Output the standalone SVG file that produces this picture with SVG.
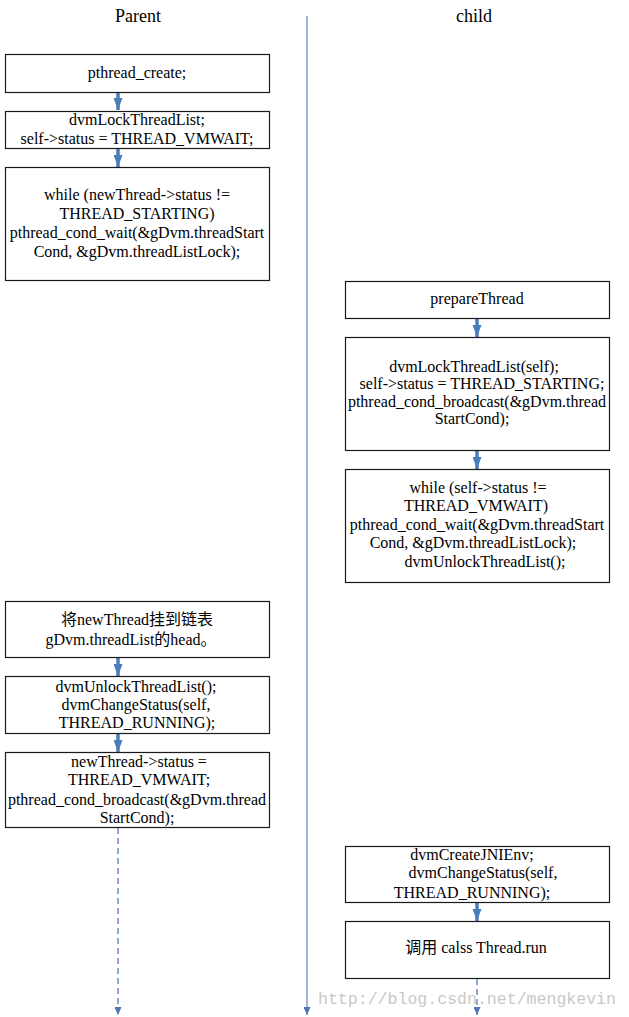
<svg xmlns="http://www.w3.org/2000/svg" width="629" height="1017" viewBox="0 0 629 1017">
<defs>
<style>
.box{fill:#fff;stroke:#1a1a1a;stroke-width:1.2}
.t{font-family:"Liberation Serif",serif;font-size:16px;fill:#000;text-anchor:middle}
.cjk{font-family:"Liberation Serif","Noto Sans CJK SC",serif}
.h{font-family:"Liberation Serif",serif;font-size:18px;fill:#000;text-anchor:middle}
.arr{stroke:#4a7ebb;stroke-width:3.5;fill:none}
.dash{stroke:#6a8cc4;stroke-width:1.5;stroke-dasharray:6 4;fill:none}
.wm{font-family:"Liberation Mono",monospace;font-size:16.5px;fill:#c8c8c8}
</style>
<marker id="ah" viewBox="0 0 12 9" refX="12" refY="4.5" markerWidth="12" markerHeight="9" markerUnits="userSpaceOnUse" orient="auto"><path d="M0,0 L12,4.5 L0,9 z" fill="#4a7ebb"/></marker>
<marker id="as" viewBox="0 0 8 7" refX="8" refY="3.5" markerWidth="8" markerHeight="7" markerUnits="userSpaceOnUse" orient="auto"><path d="M0,0 L8,3.5 L0,7 z" fill="#4f75b5"/></marker>
</defs>
<rect width="629" height="1017" fill="#fff"/>
<text class="h" x="138" y="22">Parent</text>
<text class="h" x="474" y="22">child</text>
<g id="connectors">
<line x1="307" y1="16" x2="307" y2="1015" stroke="#7f9fd6" stroke-width="1.5" marker-end="url(#as)"/>
<line class="arr" x1="118" y1="92" x2="118" y2="110" marker-end="url(#ah)"/>
<line class="arr" x1="118" y1="148" x2="118" y2="167" marker-end="url(#ah)"/>
<line class="arr" x1="477" y1="318" x2="477" y2="337" marker-end="url(#ah)"/>
<line class="arr" x1="477" y1="450" x2="477" y2="469" marker-end="url(#ah)"/>
<line class="arr" x1="118" y1="657" x2="118" y2="676" marker-end="url(#ah)"/>
<line class="arr" x1="118" y1="733" x2="118" y2="752" marker-end="url(#ah)"/>
<line class="arr" x1="477" y1="902" x2="477" y2="921" marker-end="url(#ah)"/>
<line class="dash" x1="118" y1="828" x2="118" y2="1015" marker-end="url(#as)"/>
<line class="dash" x1="477" y1="979" x2="477" y2="1015" marker-end="url(#as)"/>
</g>
<g id="p1"><rect class="box" x="5.5" y="54.5" width="264" height="38"/>
<text class="t" x="137" y="78">pthread_create;</text></g>
<g id="p2"><rect class="box" x="5.5" y="111.5" width="264" height="37"/>
<text class="t" x="137" y="125">dvmLockThreadList;</text>
<text class="t" x="137" y="144">self-&gt;status = THREAD_VMWAIT;</text></g>
<g id="p3"><rect class="box" x="5.5" y="167.5" width="264" height="113"/>
<text class="t" x="137" y="200">while (newThread-&gt;status !=</text>
<text class="t" x="137" y="219">THREAD_STARTING)</text>
<text class="t" x="137" y="238">pthread_cond_wait(&amp;gDvm.threadStart</text>
<text class="t" x="137" y="257">Cond, &amp;gDvm.threadListLock);</text></g>
<g id="c1"><rect class="box" x="345.5" y="281.5" width="264" height="37"/>
<text class="t" x="477" y="304">prepareThread</text></g>
<g id="c2"><rect class="box" x="345.5" y="337.5" width="264" height="113"/>
<text class="t" x="474" y="372">dvmLockThreadList(self);</text>
<text class="t" x="482" y="389">self-&gt;status = THREAD_STARTING;</text>
<text class="t" x="477" y="407">pthread_cond_broadcast(&amp;gDvm.thread</text>
<text class="t" x="472" y="424">StartCond);</text></g>
<g id="c3"><rect class="box" x="345.5" y="469.5" width="264" height="113"/>
<text class="t" x="478" y="493">while (self-&gt;status !=</text>
<text class="t" x="476" y="511">THREAD_VMWAIT)</text>
<text class="t" x="477" y="530">pthread_cond_wait(&amp;gDvm.threadStart</text>
<text class="t" x="473" y="548">Cond, &amp;gDvm.threadListLock);</text>
<text class="t" x="485" y="567">dvmUnlockThreadList();</text></g>
<g id="p4"><rect class="box" x="5.5" y="601.5" width="264" height="56"/>
<text class="t cjk" x="137" y="625">将newThread挂到链表</text>
<text class="t cjk" x="131" y="645">gDvm.threadList的head。</text></g>
<g id="p5"><rect class="box" x="5.5" y="676.5" width="264" height="57"/>
<text class="t" x="136" y="692">dvmUnlockThreadList();</text>
<text class="t" x="136" y="710">dvmChangeStatus(self,</text>
<text class="t" x="137" y="728">THREAD_RUNNING);</text></g>
<g id="p6"><rect class="box" x="5.5" y="752.5" width="264" height="75"/>
<text class="t" x="139" y="767">newThread-&gt;status =</text>
<text class="t" x="139" y="785">THREAD_VMWAIT;</text>
<text class="t" x="137" y="805">pthread_cond_broadcast(&amp;gDvm.thread</text>
<text class="t" x="137" y="823">StartCond);</text></g>
<g id="c4"><rect class="box" x="345.5" y="846.5" width="264" height="56"/>
<text class="t" x="472" y="860">dvmCreateJNIEnv;</text>
<text class="t" x="483" y="878">dvmChangeStatus(self,</text>
<text class="t" x="472" y="898">THREAD_RUNNING);</text></g>
<g id="c5"><rect class="box" x="345.5" y="921.5" width="264" height="57"/>
<text class="t cjk" x="476" y="953">调用 calss Thread.run</text></g>
<text class="wm" x="318" y="1004" textLength="298" lengthAdjust="spacingAndGlyphs">http://blog.csdn.net/mengkevin</text>
</svg>
